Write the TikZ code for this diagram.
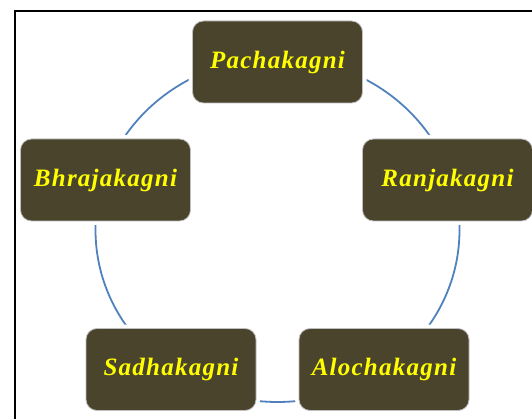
\documentclass[tikz,border=0pt]{standalone}
\usepackage{fontspec}
\setmainfont{Liberation Serif}
\newfontfamily\boxfont[LetterSpace=5]{Liberation Serif}
\definecolor{boxfill}{RGB}{74,68,45}
\definecolor{arcblue}{RGB}{79,129,189}
\definecolor{txtyellow}{RGB}{255,255,0}
\tikzset{
  agni/.style={draw=black!25, line width=0.8pt, fill=boxfill, rounded corners=11pt,
    minimum width=170pt, minimum height=82pt, inner sep=0pt,
    text=txtyellow, font=\boxfont\bfseries\itshape\fontsize{25}{28}\selectfont,
    preaction={draw=white, line width=8pt}},
  cyclearc/.style={draw=arcblue, line width=1.8pt},
  frameline/.style={draw=black, line width=2.2pt}
}
\begin{document}
\begin{tikzpicture}[x=1pt,y=-1pt]
\useasboundingbox (0,0) rectangle (532,419);
\draw[cyclearc] (277.5,230) ellipse [x radius=182pt, y radius=172pt];
\node[agni] (pach) at (277.5,62) {\raisebox{-1.5pt}{Pachakagni}};
\node[agni] (ranj) at (447.5,180) {\raisebox{-1.5pt}{Ranjakagni}};
\node[agni] (bhra) at (105.5,180) {\raisebox{-1.5pt}{Bhrajakagni}};
\node[agni] (sadh) at (171,369.5) {\raisebox{-1.5pt}{Sadhakagni}};
\node[agni] (aloc) at (384,369.5) {\raisebox{-1.5pt}{Alochakagni}};
\coordinate (fbl) at (15,419);
\coordinate (ftl) at (15,11);
\coordinate (ftr) at (532,11);
\draw[frameline] (fbl) -- (ftl) -- (ftr);
\end{tikzpicture}
\end{document}
